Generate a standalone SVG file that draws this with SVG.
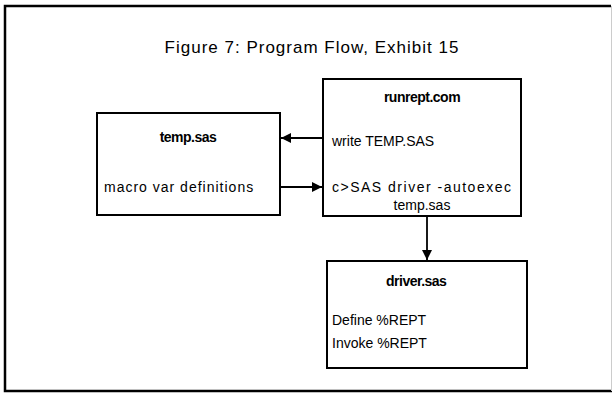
<svg xmlns="http://www.w3.org/2000/svg" width="613" height="398" viewBox="0 0 613 398">
  <defs>
    <marker id="arrow" viewBox="0 0 10 10" refX="10" refY="5" markerWidth="10" markerHeight="10" markerUnits="userSpaceOnUse" orient="auto">
      <path d="M0,0 L10,5 L0,10 Z" fill="#000"/>
    </marker>
    <style>
      .box { fill: #fff; stroke: #000; stroke-width: 2; }
      .frame { fill: none; stroke: #000; stroke-width: 2.5; }
      .edge { fill: none; stroke: #000; stroke-width: 1.8; marker-end: url(#arrow); }
      text { font-family: "Liberation Sans", Arial, sans-serif; fill: #000; }
      .title { font-size: 17px; letter-spacing: 1px; }
      .head { font-size: 14px; font-weight: bold; letter-spacing: -0.5px; }
      .body { font-size: 14px; }
      .wide { letter-spacing: 1px; }
      .wider { letter-spacing: 1.5px; }
    </style>
  </defs>
  <rect width="613" height="398" fill="#fff"/>
  <!-- outer frame -->
  <path class="frame" d="M611,6 L5,6 L5,391 L612,391"/>
  <line x1="611.5" y1="6" x2="611.5" y2="391" stroke="#ccc" stroke-width="1"/>
  <text class="title" x="312" y="53" text-anchor="middle">Figure 7: Program Flow, Exhibit 15</text>

  <g id="temp-sas">
    <rect class="box" x="97" y="113" width="183" height="102"/>
    <text class="head" x="188" y="142" text-anchor="middle">temp.sas</text>
    <text class="body wide" x="104" y="192">macro var definitions</text>
  </g>

  <g id="runrept-com">
    <rect class="box" x="323" y="79" width="198" height="137"/>
    <text class="head" x="422" y="102" text-anchor="middle">runrept.com</text>
    <text class="body" x="332" y="146">write TEMP.SAS</text>
    <text class="body wider" x="332" y="192">c&gt;SAS driver -autoexec</text>
    <text class="body" x="422" y="210" text-anchor="middle">temp.sas</text>
  </g>

  <g id="driver-sas">
    <rect class="box" x="327" y="261" width="200" height="107"/>
    <text class="head" x="386" y="286">driver.sas</text>
    <text class="body" x="332" y="325">Define %REPT</text>
    <text class="body" x="332" y="348">Invoke %REPT</text>
  </g>

  <g id="connectors">
    <line class="edge" x1="323" y1="138" x2="281" y2="138"/>
    <line class="edge" x1="280" y1="187" x2="322" y2="187"/>
    <line class="edge" x1="427" y1="216" x2="427" y2="260"/>
  </g>
</svg>
